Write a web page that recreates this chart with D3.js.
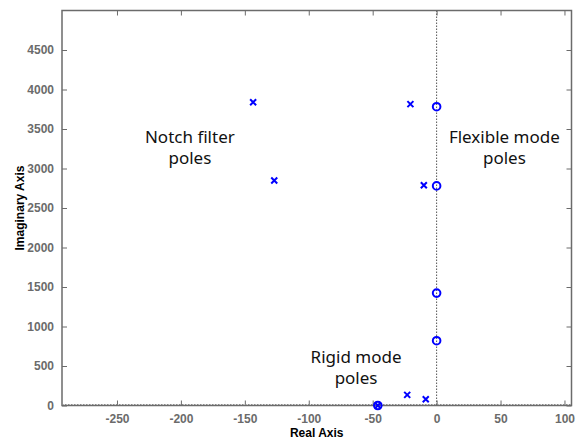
<!DOCTYPE html>
<html>
<head>
<meta charset="utf-8">
<script src="https://cdn.jsdelivr.net/npm/d3@7"></script>
<style>
  body { margin: 0; background: #fff; }
  svg { display: block; }
</style>
</head>
<body>
<div id="chart"></div>
<script>
// pole / zero locations (real, imaginary)
const poles = [
  [-143.5, 3838], [-127, 2848], [-20.5, 3815], [-10, 2788],
  [-23, 135], [-8.5, 80], [-46, 0]
];
const zeros = [
  [0, 3782], [0, 2780], [0, 1423], [0, 820], [-46, 0]
];
const xTicks = [-250, -200, -150, -100, -50, 0, 50, 100];
const yTicks = [0, 500, 1000, 1500, 2000, 2500, 3000, 3500, 4000, 4500];
const notes = [
  { lines: ["Notch filter", "poles"], x: -193, y: 3320 },
  { lines: ["Flexible mode", "poles"], x: 53, y: 3320 },
  { lines: ["Rigid mode", "poles"], x: -63, y: 540 }
];

const W = 582, H = 441;
const margin = { top: 10.5, right: 10.5, bottom: 35.5, left: 62 };
const width = W - margin.left - margin.right;
const height = H - margin.top - margin.bottom;

const svg = d3.select("#chart").append("svg")
  .attr("width", W).attr("height", H);
const g = svg.append("g")
  .attr("transform", `translate(${margin.left},${margin.top})`);

const x = d3.scaleLinear().domain([-293, 105.5]).range([0, width]);
const y = d3.scaleLinear().domain([0, 5000]).range([height, 0]);

const axisColor = "#6b6b6b";
const axisFont = "'Liberation Sans', Arial, sans-serif";

// dotted imaginary axis line
g.append("line")
  .attr("x1", x(0)).attr("x2", x(0)).attr("y1", 0).attr("y2", height)
  .attr("stroke", "#555").attr("stroke-width", 1).attr("stroke-dasharray", "1.5,1.5");

// axes (ticks inward)
const styleAxis = sel => {
  sel.attr("font-family", axisFont).attr("font-size", 12).attr("font-weight", "bold");
  sel.select(".domain").remove();
  sel.selectAll("line").attr("stroke", axisColor);
  sel.selectAll("text").attr("fill", axisColor);
};
const fmt = d => String(d);

g.append("g").attr("transform", `translate(0,${height})`)
  .call(d3.axisBottom(x).tickValues(xTicks).tickFormat(fmt).tickSizeInner(-5).tickSizeOuter(0).tickPadding(9))
  .call(styleAxis);
g.append("g")
  .call(d3.axisTop(x).tickValues(xTicks).tickSizeInner(-5).tickSizeOuter(0).tickFormat(""))
  .call(styleAxis);
g.append("g")
  .call(d3.axisLeft(y).tickValues(yTicks).tickFormat(fmt).tickSizeInner(-5).tickSizeOuter(0).tickPadding(8))
  .call(styleAxis);
g.append("g").attr("transform", `translate(${width},0)`)
  .call(d3.axisRight(y).tickValues(yTicks).tickSizeInner(-5).tickSizeOuter(0).tickFormat(""))
  .call(styleAxis);

// frame
g.append("rect")
  .attr("width", width).attr("height", height)
  .attr("fill", "none").attr("stroke", axisColor).attr("stroke-width", 1.5);

// dotted line along real axis
g.append("line")
  .attr("x1", 0).attr("x2", width).attr("y1", y(0) - 1).attr("y2", y(0) - 1)
  .attr("stroke", "#888").attr("stroke-width", 1).attr("stroke-dasharray", "1.5,1.5");

// zeros as circles
g.selectAll(".zero").data(zeros).enter().append("circle")
  .attr("class", "zero")
  .attr("cx", d => x(d[0])).attr("cy", d => y(d[1]))
  .attr("r", 3.8)
  .attr("fill", "none").attr("stroke", "#0000ff").attr("stroke-width", 2);

// poles as crosses
const s = 3;
g.selectAll(".pole").data(poles).enter().append("path")
  .attr("class", "pole")
  .attr("d", d => {
    const cx = x(d[0]), cy = y(d[1]);
    return `M${cx - s},${cy - s}L${cx + s},${cy + s}M${cx - s},${cy + s}L${cx + s},${cy - s}`;
  })
  .attr("stroke", "#0000ff").attr("stroke-width", 2).attr("fill", "none");

// annotations, one text per line
notes.forEach(n => {
  n.lines.forEach((line, i) => {
    g.append("text")
      .attr("x", x(n.x)).attr("y", y(n.y) + i * 21)
      .attr("text-anchor", "middle")
      .style("font-family", "'Noto Sans', 'Open Sans', sans-serif")
      .style("font-size", "17px")
      .attr("fill", "#111")
      .text(line);
  });
});

// axis titles
svg.append("text")
  .attr("x", margin.left + width / 2).attr("y", 437)
  .attr("text-anchor", "middle")
  .style("font-family", axisFont)
  .style("font-size", "12px").style("font-weight", "bold")
  .text("Real Axis");
svg.append("text")
  .attr("transform", `translate(24,${margin.top + height / 2}) rotate(-90)`)
  .attr("text-anchor", "middle")
  .style("font-family", axisFont)
  .style("font-size", "12px").style("font-weight", "bold")
  .text("Imaginary Axis");
</script>
</body>
</html>
